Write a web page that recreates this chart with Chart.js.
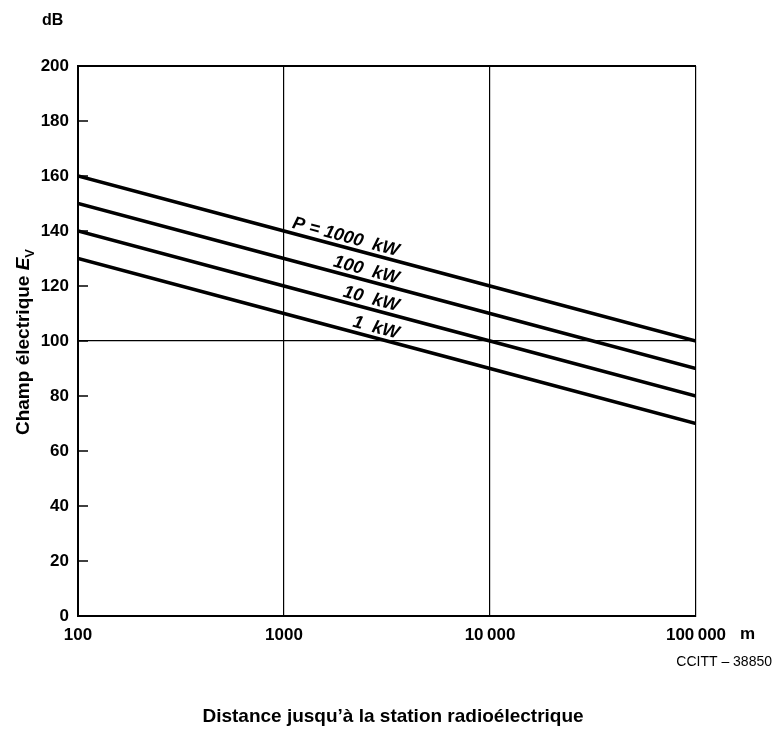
<!DOCTYPE html>
<html>
<head>
<meta charset="utf-8">
<script src="https://cdn.jsdelivr.net/npm/chart.js@4"></script>
<style>
  html, body { margin: 0; padding: 0; background: #fff; }
  #wrap { width: 774px; height: 731px; position: relative; }
</style>
</head>
<body>
<div id="wrap"><canvas id="chart" width="774" height="731"></canvas></div>
<script>
// distance (m) at each decade gridline
const distances = [100, 1000, 10000, 100000];
// field strength in dB for each transmitter power
const p1000kW = [160, 140, 120, 100];
const p100kW = [150, 130, 110, 90];
const p10kW = [140, 120, 100, 80];
const p1kW = [130, 110, 90, 70];
const powerLabels = ['P = 1000  kW', '100  kW', '10  kW', '1  kW'];
const yTicks = [0, 20, 40, 60, 80, 100, 120, 140, 160, 180, 200];
const xTickLabels = ['100', '1000', '10\u2009000', '100\u2009000'];

const FONT = '"Liberation Sans", Arial, sans-serif';

const toPoints = vals => vals.map((v, i) => ({ x: distances[i], y: v }));

// short tick marks pointing inwards on the left axis
const innerTicks = {
    id: 'innerTicks',
    afterDraw(chart) {
        const ctx = chart.ctx;
        const y = chart.scales.y;
        const left = chart.chartArea.left;
        ctx.save();
        ctx.strokeStyle = '#000';
        ctx.lineWidth = 1.5;
        yTicks.forEach(v => {
            const py = y.getPixelForValue(v);
            ctx.beginPath();
            ctx.moveTo(left, py);
            ctx.lineTo(left + 10, py);
            ctx.stroke();
        });
        ctx.restore();
    }
};

// power labels written along each line, ending near 3500 m
const lineLabels = {
    id: 'lineLabels',
    afterDatasetsDraw(chart) {
        const ctx = chart.ctx;
        const xs = chart.scales.x;
        const anchorX = xs.getPixelForValue(3500);
        ctx.save();
        ctx.fillStyle = '#000';
        ctx.font = 'italic bold 18px ' + FONT;
        ctx.textAlign = 'right';
        ctx.textBaseline = 'alphabetic';
        chart.data.datasets.forEach((ds, i) => {
            const pts = chart.getDatasetMeta(i).data;
            const a = pts[1], b = pts[2];
            const t = (anchorX - a.x) / (b.x - a.x);
            const py = a.y + t * (b.y - a.y);
            const ang = Math.atan2(b.y - a.y, b.x - a.x);
            ctx.save();
            ctx.translate(anchorX, py);
            ctx.rotate(ang);
            ctx.fillText(powerLabels[i], 0, -5);
            ctx.restore();
        });
        ctx.restore();
    }
};

// axis titles and notes
const extraText = {
    id: 'extraText',
    afterDraw(chart) {
        const ctx = chart.ctx;
        ctx.save();
        ctx.fillStyle = '#000';
        ctx.textBaseline = 'middle';

        ctx.font = 'bold 16px ' + FONT;
        ctx.textAlign = 'left';
        ctx.fillText('dB', 42, 21);

        ctx.font = 'bold 17px ' + FONT;
        ctx.fillText('m', 740, 634);

        ctx.font = '14px ' + FONT;
        ctx.textAlign = 'right';
        ctx.fillText('CCITT \u2013 38850', 772, 662);

        ctx.font = 'bold 19px ' + FONT;
        ctx.textAlign = 'center';
        ctx.fillText('Distance jusqu\u2019\u00e0 la station radio\u00e9lectrique', 393, 717);

        // vertical y title with italic E and subscript V
        ctx.translate(24, 342);
        ctx.rotate(-Math.PI / 2);
        const main = 'Champ \u00e9lectrique ';
        ctx.font = 'bold 19px ' + FONT;
        const w1 = ctx.measureText(main).width;
        ctx.font = 'italic bold 19px ' + FONT;
        const w2 = ctx.measureText('E').width;
        ctx.font = 'bold 13px ' + FONT;
        const w3 = ctx.measureText('V').width;
        let x0 = -(w1 + w2 + w3) / 2;
        ctx.textAlign = 'left';
        ctx.font = 'bold 19px ' + FONT;
        ctx.fillText(main, x0, 0);
        ctx.font = 'italic bold 19px ' + FONT;
        ctx.fillText('E', x0 + w1, 0);
        ctx.font = 'bold 13px ' + FONT;
        ctx.fillText('V', x0 + w1 + w2, 6);
        ctx.restore();
    }
};

const lineStyle = { borderColor: '#000', borderWidth: 3.5, pointRadius: 0, fill: false, tension: 0 };

new Chart(document.getElementById('chart').getContext('2d'), {
    type: 'line',
    data: {
        datasets: [
            { label: '1000 kW', data: toPoints(p1000kW), ...lineStyle },
            { label: '100 kW', data: toPoints(p100kW), ...lineStyle },
            { label: '10 kW', data: toPoints(p10kW), ...lineStyle },
            { label: '1 kW', data: toPoints(p1kW), ...lineStyle }
        ]
    },
    options: {
        responsive: false,
        animation: false,
        layout: { padding: { left: 0, top: 66, right: 78, bottom: 0 } },
        plugins: { legend: { display: false }, tooltip: { enabled: false } },
        scales: {
            x: {
                type: 'logarithmic',
                min: 100,
                max: 100000,
                afterBuildTicks: scale => { scale.ticks = distances.map(v => ({ value: v })); },
                afterFit: scale => { scale.height = 115; },
                border: { display: true, color: '#000', width: 2 },
                grid: { color: '#000', lineWidth: 1.2, drawTicks: false },
                ticks: {
                    color: '#000',
                    padding: 9,
                    autoSkip: false,
                    maxRotation: 0,
                    font: { family: FONT, size: 17, weight: 'bold' },
                    callback: (v) => xTickLabels[distances.indexOf(v)] ?? ''
                }
            },
            y: {
                min: 0,
                max: 200,
                afterBuildTicks: scale => { scale.ticks = yTicks.map(v => ({ value: v })); },
                afterFit: scale => { scale.width = 78; },
                border: { display: true, color: '#000', width: 2 },
                grid: {
                    drawTicks: false,
                    color: ctx => (ctx.tick && (ctx.tick.value === 100 || ctx.tick.value === 200)) ? '#000' : 'rgba(0,0,0,0)',
                    lineWidth: ctx => (ctx.tick && ctx.tick.value === 200) ? 2 : 1.2
                },
                ticks: {
                    color: '#000',
                    padding: 9,
                    font: { family: FONT, size: 17, weight: 'bold' }
                }
            }
        }
    },
    plugins: [innerTicks, lineLabels, extraText]
});
</script>
</body>
</html>
